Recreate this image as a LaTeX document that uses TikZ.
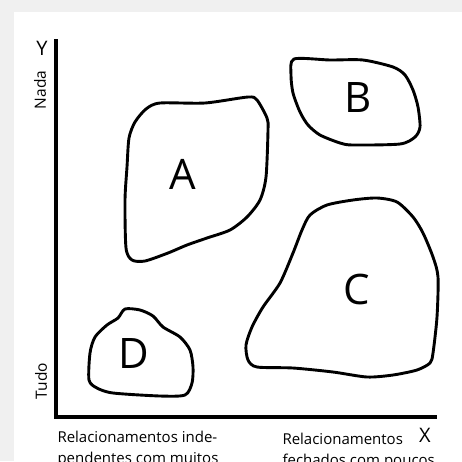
\documentclass[tikz,border=0pt]{standalone}
\usepackage{fontspec}
\setmainfont{Open Sans}
\usetikzlibrary{positioning}
\tikzstyle{every node}=[inner sep=0pt]
\tikzstyle{blob}=[draw=black, line width=2.9pt, line join=round, line cap=round]
\tikzstyle{axis}=[draw=black, line width=3.8pt]
\tikzstyle{letter}=[font=\fontsize{42}{42}\selectfont]
\tikzstyle{axislabel}=[font=\fontsize{20}{20}\selectfont]
\tikzstyle{sidelabel}=[font=\fontsize{15.5}{15.5}\selectfont, rotate=90]
\tikzstyle{caption}=[font=\fontsize{15}{21}\selectfont, align=left, anchor=north west]

\begin{document}
\begin{tikzpicture}[x=1pt, y=-1pt]
    \pgfsetlinewidth{1pt}
    \useasboundingbox (0,0) rectangle (462,461);

    % Page and card
    \fill[black!6] (0,0) rectangle (462,461);
    \fill[white] (14,12) rectangle (462,461);

    % Axes
    \coordinate (ytop) at (56,39);
    \coordinate (origin) at (56,417);
    \coordinate (xend) at (437,417);
    \draw[axis] (ytop) -- (origin) -- (xend);

    \node[axislabel] (Y) at (42,48) {Y};
    \node[axislabel] (X) at (425,435) {X};
    \node[sidelabel] (nada) at (40,90) {Nada};
    \node[sidelabel] (tudo) at (41,381) {Tudo};

    % Captions under the x axis
    \node[caption] (left) at (57,430.5) {Relacionamentos inde-\\pendentes com muitos};
    \node[caption] (right) at (282,432.5) {Relacionamentos\\fechados com poucos};

    % Group A
    \draw[blob] plot[smooth cycle, tension=0.45] coordinates {
        (160,103) (205,103) (248,97) (257,100) (267,118) (268,130)
        (266,177) (260,200) (247,217) (230,230) (207,238) (187,245)
        (168,253) (145,261) (132,260) (126,248) (125,200) (127,167)
        (129,138) (135,122) (146,109)};
    \node[letter] (A) at (183,174) {A};

    % Group B
    \draw[blob] plot[smooth cycle, tension=0.45] coordinates {
        (294,59) (330,60) (363,60) (393,67) (405,75) (413,90)
        (418,107) (420,127) (415,137) (400,144) (353,145) (340,143)
        (320,135) (308,125) (300,112) (293,93) (291,75)};
    \node[letter] (B) at (358,98) {B};

    % Group C
    \draw[blob] plot[smooth cycle, tension=0.45] coordinates {
        (377,198) (397,202) (413,217) (423,233) (433,257) (438,277)
        (437,317) (433,353) (430,363) (417,370) (393,375) (367,377)
        (333,372) (293,368) (257,367) (248,360) (246,345) (252,327)
        (263,307) (280,283) (293,253) (302,230) (310,215) (327,205)
        (353,200)};
    \node[letter] (C) at (357,289) {C};

    % Group D
    \draw[blob] plot[smooth cycle, tension=0.45] coordinates {
        (125,309) (140,310) (153,316) (163,327) (180,337) (190,350)
        (193,367) (192,383) (185,395) (160,396) (113,393) (97,388)
        (89,380) (90,353) (95,337) (107,325) (118,318)};
    \node[letter] (D) at (134,353) {D};

\end{tikzpicture}
\end{document}
